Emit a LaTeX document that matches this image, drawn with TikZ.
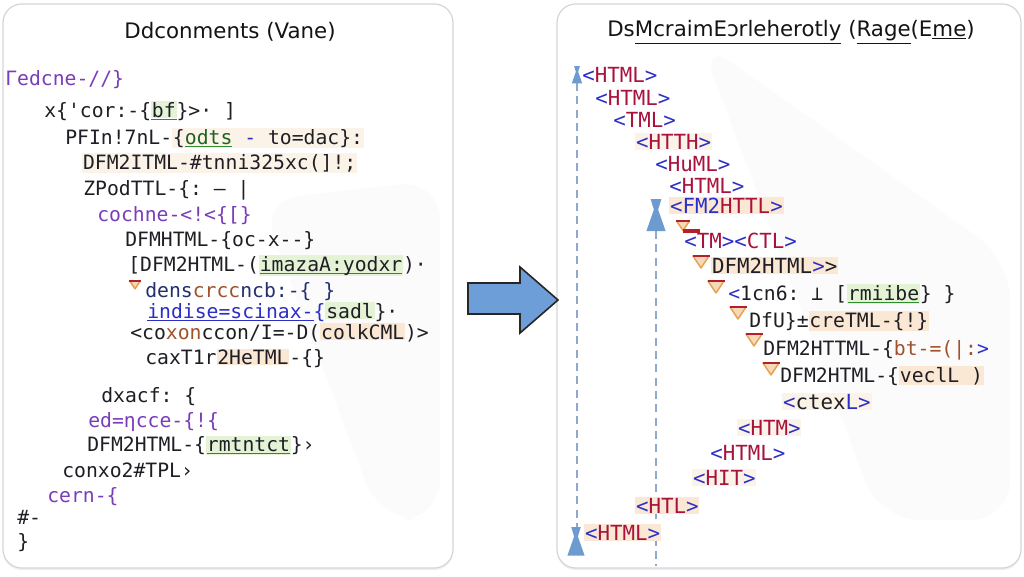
\documentclass[tikz,border=0pt]{standalone}
\usepackage{fontspec}
\setmainfont{DejaVu Sans}
\setmonofont{DejaVu Sans Mono}
\usetikzlibrary{shadows}
\definecolor{codepurple}{HTML}{7A3DB8}
\definecolor{codedark}{HTML}{1E1E24}
\definecolor{tagblue}{HTML}{2B2FC7}
\definecolor{tagred}{HTML}{A8123C}
\definecolor{hlgreen}{HTML}{E4F3D5}
\definecolor{ulgreen}{HTML}{2E8B2E}
\definecolor{hlpeach}{HTML}{FBE8D4}
\definecolor{hlpeachlight}{HTML}{FCF3E8}
\definecolor{panelborder}{HTML}{D4D6DA}
\definecolor{arrowblue}{HTML}{6D9ED8}
\definecolor{markblue}{HTML}{6E9BCF}
\definecolor{dashblue}{HTML}{8FA9CC}
\definecolor{triorange}{HTML}{E9A04E}
\definecolor{trired}{HTML}{B3202A}
\definecolor{navyc}{HTML}{24306E}
\definecolor{brownc}{HTML}{A0522D}
\newcommand\hlg[1]{{\setlength\fboxsep{0.6pt}\colorbox{hlgreen}{#1}}}
\newcommand\hlo[1]{{\setlength\fboxsep{0.6pt}\colorbox{hlpeach}{#1}}}
\newcommand\hll[1]{{\setlength\fboxsep{0.6pt}\colorbox{hlpeachlight}{#1}}}
\newcommand\ulc[2]{{\setbox0\hbox{#2}\rlap{\color{#1}\rule[-2.6pt]{\wd0}{1.1pt}}\box0}}
\newcommand\mytag[1]{{\color{tagblue}<}{\color{tagred}#1}{\color{tagblue}>}}
\tikzset{
  panel/.style={draw=panelborder, line width=0.9pt, fill=white, rounded corners=14pt,
    drop shadow={opacity=0.12, shadow xshift=0pt, shadow yshift=-1.5pt}},
  ptitle/.style={inner sep=0pt, font=\fontsize{16}{19}\selectfont, text=black!92},
  codeline/.style={anchor=west, inner sep=0pt, text height=11pt, text depth=3.5pt,
    font=\ttfamily\fontsize{14.8}{16}\selectfont, text=codedark},
  tagline/.style={codeline, font=\ttfamily\fontsize{15.6}{17}\selectfont},
  dashline/.style={draw=dashblue, line width=1pt, dash pattern=on 6pt off 4pt},
  hglass/.pic={\fill[markblue] (-5,0) -- (5,0) -- (2,10) -- (9,30) -- (-9,30) -- (-2,10) -- cycle;},
  tri/.pic={\fill[triorange!40] (-8,0) -- (8,0) -- (0,12) -- cycle;
    \draw[triorange, line width=1.1pt, line join=round] (-8,0) -- (8,0) -- (0,12) -- cycle;
    \draw[trired, line width=2.2pt] (-8.5,0) -- (8.5,0);},
  bigarrow/.style={fill=arrowblue, draw=black!85, line width=1.2pt, line join=miter}
}
\begin{document}
\begin{tikzpicture}[x=0.75pt,y=-0.75pt]
\useasboundingbox (0,0) rectangle (1024,576);
\fill[white] (0,0) rectangle (1024,576);
% panels
\path[panel] (3,4) rectangle (453,568);
\path[panel] (557,4) rectangle (1021,568);
\fill[black!1.5, rounded corners=30pt] (260,200) -- (440,180) -- (440,520) -- (380,520) -- cycle;
\fill[black!1.5, rounded corners=30pt] (700,40) -- (1010,260) -- (1010,520) -- (880,520) -- cycle;
% titles
\node[ptitle] (ltitle) at (230,32) {Ddconments (Vane)};
\node[ptitle] (rtitle) at (791,32) {Ds\underline{McraimEɔrleherotly} (\underline{Rage}(E\underline{me})};
% left code
\node[codeline] (l1) at (5,80) {{\color{codepurple}Γedcne-//\}}};
\node[codeline] (l2) at (44,112) {x\{'cor:-\{\ulc{ulgreen}{\hlg{bf}}\}>· ]};
\node[codeline] (l3) at (65,139) {PFIn!7nL-\hll{\{{\color{ulgreen!70!black}\ulc{ulgreen}{odts}} {\color{tagblue}-} to=dac\}:}};
\node[codeline] (l4) at (82,164) {\hll{DFM2ITML-\#tnni325xc(]!;}};
\node[codeline] (l5) at (83,190) {ZPodTTL-\{: — |};
\node[codeline] (l6) at (97,216) {{\color{codepurple}cochne-<!<\{[\}}};
\node[codeline] (l7) at (125,241) {DFMHTML-\{oc-x--\}};
\node[codeline] (l8) at (128,266) {[DFM2HTML-(\hlg{\ulc{ulgreen}{imazaA:yodxr}})·};
\node[codeline] (l9) at (145,292) {{\color{navyc}dens}{\color{brownc}crcc}{\color{navyc}ncb:-\{ \}}};
\node[codeline] (l10) at (147,313) {{\color{tagblue}\ulc{tagblue}{indise=scinax-}\{}\hlg{sadl}\}·};
\node[codeline] (l11) at (130,334) {<co{\color{brownc}xon}ccon/I=-D(\hlo{colkCML})>};
\node[codeline] (l12) at (145,359) {caxT1r\hlo{2HeTML}-\{\}};
\node[codeline] (l13) at (101,397) {dxacf: \{};
\node[codeline] (l14) at (88,422) {{\color{codepurple}ed=ηcce-\{!\{}};
\node[codeline] (l15) at (87,446) {DFM2HTML-\{\hlg{\ulc{ulgreen}{rmtntct}}\}›};
\node[codeline] (l16) at (62,472) {conxo2\#TPL›};
\node[codeline] (l17) at (47,497) {{\color{codepurple}cern-\{}};
\node[codeline] (l18) at (17,519) {\#-};
\node[codeline] (l19) at (17,543) {\}};
\pic at (135,281) [scale=0.65] {tri};
% middle arrow
\draw[bigarrow] (468,283) -- (520,283) -- (520,267) -- (558,300) -- (520,333) -- (520,314) -- (468,314) -- cycle;
% right dashed guides
\coordinate (d1top) at (577,83);
\coordinate (d1bot) at (577,527);
\coordinate (d2top) at (656,231);
\coordinate (d2bot) at (656,566);
\draw[dashline] (d1top) -- (d1bot);
\draw[dashline] (d2top) -- (d2bot);
\pic at (577,66) [scale=0.58] {hglass};
\pic at (656,199) [scale=1.07] {hglass};
\pic at (576,527) [scale=0.95] {hglass};
% right lines
\node[tagline] (r1) at (582,77) {\mytag{HTML}};
\node[tagline] (r2) at (595,100) {\mytag{HTML}};
\node[tagline] (r3) at (613,122) {\mytag{TML}};
\node[tagline] (r4) at (635,144) {\hll{\mytag{HTTH}}};
\node[tagline] (r5) at (655,166) {\mytag{HuML}};
\node[tagline] (r6) at (669,188) {\mytag{HTML}};
\node[tagline] (r7) at (669,208) {\hlo{{\color{tagblue}<FM2}{\color{tagred}HTTL}{\color{tagblue}>}}};
\node[tagline] (r8) at (684,243) {{\color{tagblue}<}{\color{tagred}TM}{\color{tagblue}><}{\color{tagred}CTL}{\color{tagblue}>}};
\node[tagline] (r9) at (711,268) {\hlo{DFM2HTML{\color{tagblue}>}>}};
\node[codeline] (r10) at (728,295) {{\color{tagblue}<}1cn6: ⊥ [\hlg{\ulc{ulgreen}{rmiibe}}\} \}};
\node[codeline] (r11) at (749,322) {DfU\}±\hlo{creTML-\{!\}}};
\node[codeline] (r12) at (763,350) {DFM2HTTML-\{{\color{brownc}bt-=(|:}{\color{tagblue}>}};
\node[codeline] (r13) at (780,377) {DFM2HTML-\{\hlo{veclL )}};
\node[tagline] (r14) at (782,404) {\hll{{\color{tagblue}<}ctex{\color{tagblue}L>}}};
\node[tagline] (r15) at (737,430) {\hll{\mytag{HTM}}};
\node[tagline] (r16) at (710,455) {\mytag{HTML}};
\node[tagline] (r17) at (692,480) {\hll{\mytag{HIT}}};
\node[tagline] (r18) at (635,508) {\hlo{\mytag{HTL}}};
\node[tagline] (r19) at (584,535) {\hlo{\mytag{HTML}}};
% small markers
\pic at (683,221) [scale=0.8] {tri};
\fill[trired] (683,229) rectangle (700,233);
\pic at (701,256) {tri};
\pic at (716,281) {tri};
\pic at (738,307) {tri};
\pic at (754,334) {tri};
\pic at (771,363) {tri};
\end{tikzpicture}
\end{document}
